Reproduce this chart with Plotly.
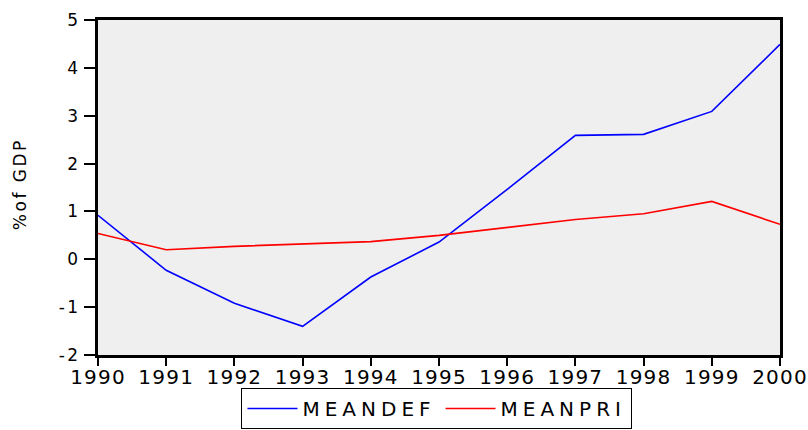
import plotly.graph_objects as go

# Annual averages, % of GDP
years = [1990, 1991, 1992, 1993, 1994, 1995, 1996, 1997, 1998, 1999, 2000]
meandef = [0.92, -0.23, -0.92, -1.40, -0.37, 0.36, 1.46, 2.59, 2.61, 3.09, 4.49]
meanpri = [0.54, 0.20, 0.27, 0.32, 0.37, 0.50, 0.67, 0.83, 0.95, 1.21, 0.73]

y_ticks = [-2, -1, 0, 1, 2, 3, 4, 5]
y_axis_label = "%of GDP"

FONT = "DejaVu Sans, Verdana, sans-serif"


def spaced(text, px):
    return f"<span style='letter-spacing:{px}px'>{text}</span>"


fig = go.Figure()
fig.add_trace(go.Scatter(
    x=years, y=meandef, mode="lines", name=spaced("MEANDEF", 5),
    line=dict(color="#0000ff", width=1.6),
))
fig.add_trace(go.Scatter(
    x=years, y=meanpri, mode="lines", name=spaced("MEANPRI", 5),
    line=dict(color="#ff0000", width=1.6),
))

fig.update_layout(
    width=808, height=430,
    margin=dict(l=98, r=28, t=20, b=75, autoexpand=False),
    paper_bgcolor="white",
    plot_bgcolor="#efefef",
    font=dict(family=FONT, color="black"),
    showlegend=True,
    legend=dict(
        orientation="h",
        x=0.497, xanchor="center",
        y=-(429 - 355) / 335, yanchor="bottom",
        bordercolor="black", borderwidth=1,
        bgcolor="white",
        font=dict(size=20, family=FONT, color="black"),
        itemwidth=50,
    ),
    xaxis=dict(
        range=[1990, 2000],
        tickvals=years,
        ticktext=[spaced(str(y), 1.2) for y in years],
        tickfont=dict(size=20, family=FONT, color="black"),
        ticks="outside", ticklen=8, tickwidth=2, tickcolor="black",
        ticklabelstandoff=-6,
        showline=True, linecolor="black", linewidth=2.5, mirror=True,
        showgrid=False, zeroline=False, automargin=False,
    ),
    yaxis=dict(
        range=[-2, 5],
        tickvals=y_ticks,
        ticktext=[spaced(str(v), 2.5) for v in y_ticks],
        tickfont=dict(size=17, family=FONT, color="black"),
        ticks="outside", ticklen=11, tickwidth=2, tickcolor="black",
        showline=True, linecolor="black", linewidth=3, mirror=True,
        showgrid=False, zeroline=False, automargin=False,
    ),
    annotations=[dict(
        text=spaced(y_axis_label, 2.5), textangle=-90,
        xref="paper", yref="paper",
        x=(20 - 98) / 682, y=0.51,
        xanchor="center", yanchor="middle",
        showarrow=False,
        font=dict(size=17, family=FONT, color="black"),
    )],
)

fig.write_html("out.html")
